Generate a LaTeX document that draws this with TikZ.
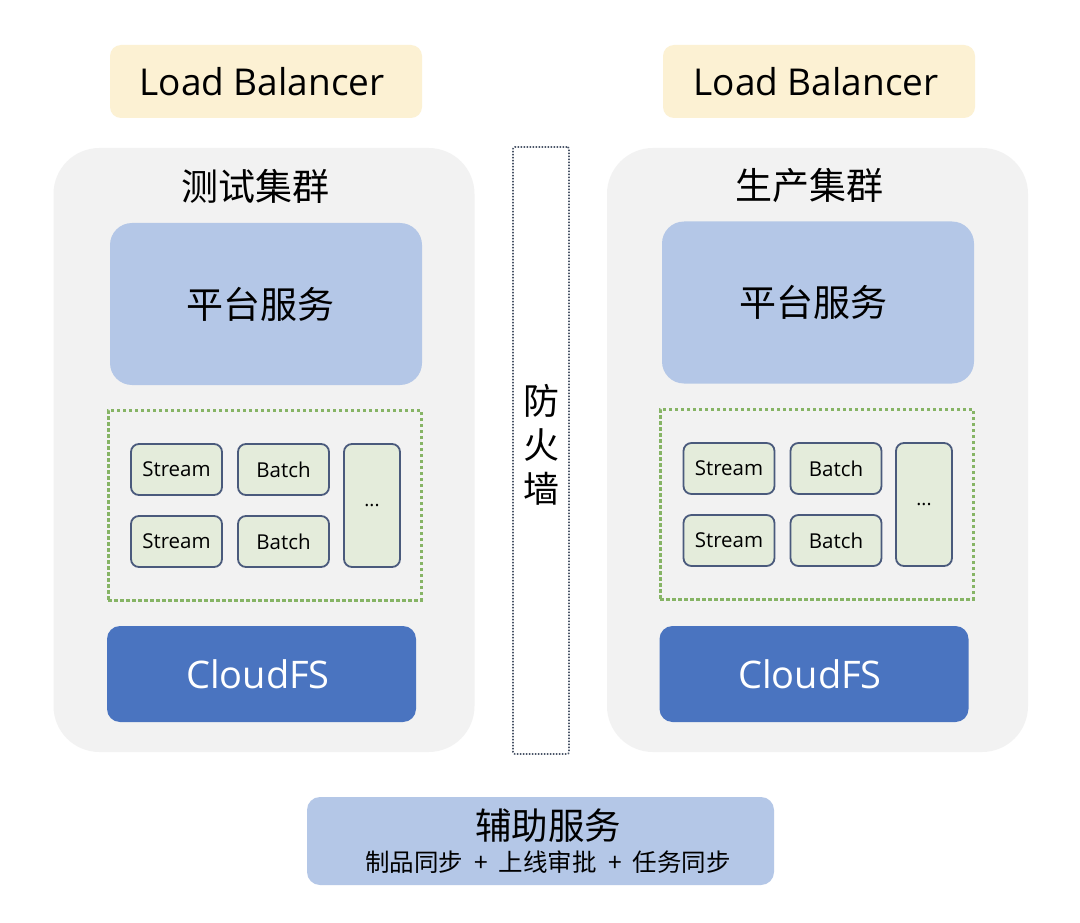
\documentclass[tikz,border=0pt]{standalone}
\usepackage{fontspec}
\setmainfont{Open Sans}
\newfontfamily\cjk{Noto Sans CJK SC}
\definecolor{lbfill}{HTML}{FCF1D3}
\definecolor{clfill}{HTML}{F2F2F2}
\definecolor{svcfill}{HTML}{B4C7E7}
\definecolor{grn}{HTML}{86B465}
\definecolor{smfill}{HTML}{E4ECDB}
\definecolor{smdraw}{HTML}{4A5A7C}
\definecolor{cfs}{HTML}{4A74C0}
\definecolor{fw}{HTML}{4A5568}
\begin{document}
\begin{tikzpicture}[x=1pt,y=-1pt,
  every node/.style={inner sep=0pt, outer sep=0pt},
  lbbox/.style={fill=lbfill, rounded corners=11pt, minimum width=312pt, minimum height=73pt},
  lbtext/.style={font=\fontsize{37}{40}\selectfont},
  clusterbox/.style={fill=clfill, rounded corners=46pt, minimum width=421pt, minimum height=604pt},
  ctitle/.style={font=\cjk\fontsize{37}{40}\selectfont},
  svcbox/.style={fill=svcfill, rounded corners=22pt, minimum width=312pt, minimum height=162pt},
  svctext/.style={font=\cjk\fontsize{37}{40}\selectfont},
  jobarea/.style={draw=grn, line width=3pt, dash pattern=on 3.5pt off 2.5pt, minimum width=313pt, minimum height=190pt},
  jobbox/.style={draw=smdraw, fill=smfill, line width=1.8pt, rounded corners=8pt, minimum width=91pt, minimum height=51pt, font=\fontsize{20.5}{22}\selectfont},
  morebox/.style={draw=smdraw, fill=smfill, line width=1.8pt, rounded corners=8pt, minimum width=56pt, minimum height=123pt, font=\fontsize{19}{22}\selectfont},
  cfsbox/.style={fill=cfs, rounded corners=13pt, minimum width=309pt, minimum height=96pt},
  cfstext/.style={text=white, font=\fontsize{38}{40}\selectfont},
  fwbox/.style={draw=fw, line width=1.6pt, dash pattern=on 1.5pt off 1.5pt, rounded corners=2pt, minimum width=56pt, minimum height=607pt},
  auxbox/.style={fill=svcfill, rounded corners=13pt, minimum width=467pt, minimum height=88pt}
]
\useasboundingbox (0,0) rectangle (1080,923);
\fill[white] (0,0) rectangle (1080,923);

% Load balancers
\node[lbbox] (lbL) at (266,81.5) {};
\node[lbtext] (lbLt) at (262,81.5) {Load Balancer};
\node[lbbox] (lbR) at (819,81.5) {};
\node[lbtext] (lbRt) at (816,81.5) {Load Balancer};

% Clusters
\node[clusterbox] (clL) at (264,450) {};
\node[clusterbox] (clR) at (817.5,450) {};
\node[ctitle] (tL) at (255,186) {测试集群};
\node[ctitle] (tR) at (809,186) {生产集群};

% Platform services
\node[svcbox] (psL) at (266,304) {};
\node[svctext] (psLt) at (260,304) {平台服务};
\node[svcbox] (psR) at (818,302.5) {};
\node[svctext] (psRt) at (813,302.5) {平台服务};

% Job areas
\node[jobarea] (jaL) at (264.5,505) {};
\node[jobarea] (jaR) at (816.5,504) {};

\node[jobbox] (s1L) at (176.5,469.5) {Stream};
\node[jobbox] (b1L) at (283.5,469.5) {Batch};
\node[jobbox] (s2L) at (176.5,541.5) {Stream};
\node[jobbox] (b2L) at (283.5,541.5) {Batch};
\node[morebox] (mL) at (372,505.5) {...};

\node[jobbox] (s1R) at (729,468.5) {Stream};
\node[jobbox] (b1R) at (836,468.5) {Batch};
\node[jobbox] (s2R) at (729,540.5) {Stream};
\node[jobbox] (b2R) at (836,540.5) {Batch};
\node[morebox] (mR) at (924,504.5) {...};

% CloudFS
\node[cfsbox] (cfL) at (261.5,674) {};
\node[cfstext] (cfLt) at (258,674) {CloudFS};
\node[cfsbox] (cfR) at (814,674) {};
\node[cfstext] (cfRt) at (810,674) {CloudFS};

% Firewall
\node[fwbox] (fwall) at (541,450.5) {};
\node[align=center, font=\cjk\fontsize{36}{44}\selectfont] (fwt) at (541,445) {防\\火\\墙};

% Auxiliary services
\node[auxbox] (aux) at (540.5,841) {};
\node[font=\cjk\fontsize{36.5}{40}\selectfont] (auxt) at (548,826) {辅助服务};
\node[font=\cjk\fontsize{24.5}{28}\selectfont] (auxs) at (548,862) {制品同步\hspace{0.45em}+\hspace{0.45em}上线审批\hspace{0.45em}+\hspace{0.45em}任务同步};
\end{tikzpicture}
\end{document}
